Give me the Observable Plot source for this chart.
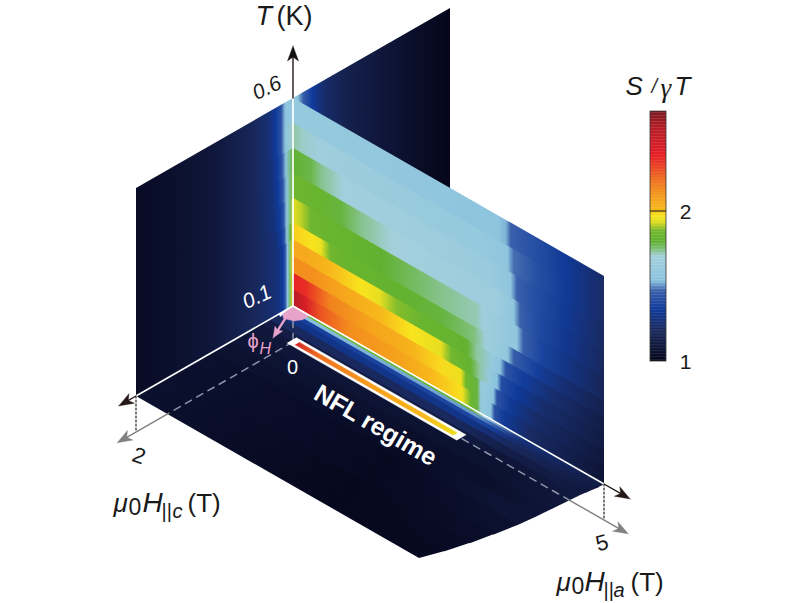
<!DOCTYPE html>
<html>
<head>
<meta charset="utf-8">
<style>html,body{margin:0;padding:0;background:#fff;overflow:hidden}svg{display:block}</style>
<script src="https://cdn.jsdelivr.net/npm/d3@7"></script>
<script src="https://cdn.jsdelivr.net/npm/@observablehq/plot@0.6"></script>
</head>
<body>
<div id="chart"></div>
<script>
// ---- data ----
const tEdges = [0.6, 0.54, 0.48, 0.42, 0.36, 0.30, 0.26, 0.22, 0.18, 0.14, 0.10];

// S/gammaT along mu0H||a (T) for every temperature row, top to bottom: [Ha, S]
const panelRows = [
  [[0,1.6],[.5,1.6],[2,1.57],[3.3,1.55],[3.42,1.52],[3.5,1.46],[3.85,1.41],[4.4,1.33],[5,1.22]],
  [[0,1.72],[.15,1.7],[.4,1.66],[1.5,1.63],[3,1.6],[3.45,1.56],[3.55,1.47],[3.9,1.41],[4.4,1.33],[5,1.22]],
  [[0,1.79],[.3,1.77],[.45,1.73],[.8,1.68],[2,1.65],[3.2,1.62],[3.5,1.56],[3.6,1.46],[3.9,1.4],[4.4,1.32],[5,1.21]],
  [[0,1.84],[.45,1.82],[.77,1.78],[1.1,1.73],[1.6,1.69],[2.4,1.66],[3.3,1.64],[3.55,1.56],[3.65,1.46],[4,1.38],[4.4,1.31],[5,1.2]],
  [[0,1.93],[.13,1.9],[.29,1.84],[.93,1.81],[1.41,1.79],[1.9,1.76],[2.4,1.73],[2.96,1.71],[3.05,1.66],[3.6,1.57],[3.7,1.46],[4,1.37],[4.4,1.29],[5,1.18]],
  [[0,1.98],[.3,1.96],[.45,1.94],[.6,1.85],[.9,1.82],[1.8,1.8],[2.4,1.78],[2.9,1.74],[3.1,1.66],[3.45,1.58],[3.55,1.45],[3.9,1.36],[4.3,1.26],[5,1.15]],
  [[0,2.05],[.2,2.05],[.6,2.0],[1.1,1.96],[1.4,1.93],[1.66,1.87],[2.06,1.83],[2.8,1.8],[2.96,1.72],[3.2,1.6],[3.33,1.55],[3.42,1.42],[3.7,1.35],[4.2,1.24],[5,1.13]],
  [[0,2.12],[.3,2.12],[.8,2.06],[1.4,2.0],[1.9,1.96],[2.38,1.93],[2.54,1.86],[2.86,1.8],[3,1.72],[3.15,1.6],[3.28,1.53],[3.35,1.4],[3.6,1.34],[4.0,1.24],[5,1.12]],
  [[0,2.35],[.2,2.33],[.6,2.15],[1.25,2.07],[1.9,2.02],[2.38,1.97],[2.7,1.94],[2.78,1.85],[2.96,1.78],[3.02,1.62],[3.22,1.55],[3.28,1.42],[3.5,1.33],[3.9,1.23],[5,1.1]],
  [[0,2.55],[.2,2.42],[.45,2.25],[.93,2.12],[1.74,2.07],[2.22,2.0],[2.62,1.97],[2.72,1.95],[2.86,1.83],[2.96,1.78],[3.02,1.6],[3.18,1.56],[3.24,1.42],[3.4,1.33],[3.8,1.22],[5,1.08]]
];

// wall: S along mu0H||c from +2 through 0 to -2: [Hc, S]
const wallOuter = [[2,1.03],[1.6,1.05],[1,1.1],[.5,1.19]];
const wallBack = [[-.06,1.55],[-.13,1.45],[-.25,1.34],[-.4,1.23],[-.7,1.15],[-1.2,1.09],[-1.6,1.04],[-2,1.0]];
const wallInner = [
  [[.3,1.26],[.22,1.34],[.15,1.42],[.1,1.55],[0,1.6]],
  [[.3,1.26],[.22,1.34],[.15,1.42],[.1,1.55],[0,1.7]],
  [[.28,1.26],[.2,1.34],[.14,1.42],[.09,1.55],[0,1.78]],
  [[.27,1.26],[.19,1.34],[.13,1.42],[.08,1.55],[0,1.84]],
  [[.26,1.26],[.17,1.34],[.12,1.42],[.08,1.55],[.03,1.75],[0,1.93]],
  [[.22,1.26],[.15,1.34],[.11,1.42],[.08,1.55],[.03,1.78],[0,1.98]],
  [[.2,1.26],[.13,1.34],[.1,1.42],[.07,1.55],[.04,1.75],[.02,1.9],[0,2.05]],
  [[.2,1.26],[.13,1.34],[.1,1.42],[.07,1.55],[.04,1.75],[.02,1.9],[0,2.12]],
  [[.2,1.26],[.13,1.34],[.1,1.42],[.07,1.55],[.04,1.75],[.02,1.9],[0,2.35]],
  [[.2,1.26],[.13,1.34],[.1,1.42],[.07,1.55],[.04,1.75],[.02,1.9],[0,2.55]]
];

// floor strips: edges in Hc, rim of the measured field in Ha, S along Ha
const floorEdges = [0,.03,.07,.12,.2,.3,.4,.6,.8,1,1.25,1.5,1.75,2];
const floorRim = [5,5,5,4.99,4.975,4.96,4.95,4.93,4.91,4.88,4.82,4.75,4.66,4.55];
const floorRows = [
  [[0,1.85],[2.9,1.82],[3.1,1.62],[3.3,1.5],[3.7,1.28],[5,1.13]],
  [[0,1.55],[3,1.5],[3.3,1.45],[3.7,1.26],[5,1.12]],
  [[0,1.36],[3.1,1.38],[3.3,1.36],[3.7,1.23],[5,1.12]],
  [[0,1.3],[3,1.3],[3.7,1.2],[5,1.11]],
  [[0,1.2],[3,1.2],[3.7,1.14],[5,1.11]],
  [[0,1.13],[3,1.12],[4,1.09],[5,1.11]],
  [[0,1.1],[3,1.07],[4,1.07],[5,1.1]],
  [[0,1.08],[3,1.05],[4,1.05],[5,1.09]],
  [[0,1.07],[3,1.03],[4.5,1.08]],
  [[0,1.06],[3,1.02],[4.5,1.06]],
  [[0,1.06],[3,1.02],[4.5,1.04]],
  [[0,1.06],[3,1.01],[4.5,1.03]],
  [[0,1.06],[3,1.01],[4.5,1.02]]
];

// colour bar
const colorStops = [1,1.21,1.34,1.46,1.53,1.69,1.74,1.79,1.86,1.92,1.96,2,2.08,2.21,2.36,2.55,2.66];
const colorRamp = ["#05061a","#1a2a60","#0f3a9b","#3a60aa","#8ac3de","#a4d0dc","#7fc07a","#60b130","#72b82e","#e0dc20","#f8e41e","#f7b81c","#f5a01c","#ee6a20","#e71f27","#b41d26","#7a1a20"];
const colorTicks = [1, 2];

// NFL bar: S along Ha
const nflStops = [[.5,2.45],[.9,2.2],[1.8,2.08],[2.6,2.0],[3.15,1.94]];
const nflOuter = {ha:[.47,3.2], hc:[.33,.45]};
const nflInner = {ha:[.56,3.1], hc:[.362,.418]};

// phi_H sector on the floor, [Ha, Hc]
const sectorPink = [[0,0],[.27,0],[.27,.09],[.22,.16],[.1,.2],[.03,.16]];
const sectorWhite = [[0,0],[0,.18],[.05,.2],[.03,.15]];
const phiTip = [.288,.483];

// axis extents
const tTop = .6, tTip = .725, tGround = .0135;
const haMax = 5, hcMax = 2, haTip = 5.42, hcTip = 2.22;
const haGreyTip = 5.39, hcGreyTip = 2.24, haDashEnd = 4.44, hcDashEnd = 1.58;

// ---- oblique projection of (Hc, Ha, T) ----
const P = (hc, ha, t = .1) => ({x: 292.5 + 62.2 * ha - 78.5 * hc, y: 305.5 + 35.6 * ha + 45 * hc - 416 * (t - .1)});

const colorScale = Plot.scale({color: {type: "linear", domain: colorStops, range: colorRamp, interpolate: "rgb"}});
const col = v => colorScale.apply(v);

const FONT = "'Liberation Sans', Arial, sans-serif";
const gradients = [];
function grad(id, x1, x2, stops) {
  gradients.push({id, x1, x2, stops});
  return `url(#${id})`;
}
const poly = (pts, fill, sw = 0) => Plot.line(pts, {x: "x", y: "y", fill, stroke: sw ? fill : "none", strokeWidth: sw, strokeLinejoin: "round"});
const seg = (a, b, o) => Plot.line([a, b], {x: "x", y: "y", ...o});
function head(from, tip, fill, len = 15, w = 5.5, notch = 11) {
  const d = Math.hypot(tip.x - from.x, tip.y - from.y), u = {x: (tip.x - from.x) / d, y: (tip.y - from.y) / d};
  const n = {x: -u.y, y: u.x};
  const base = l => ({x: tip.x - u.x * l, y: tip.y - u.y * l});
  const b = base(len), c = base(notch);
  return poly([tip, {x: b.x + n.x * w, y: b.y + n.y * w}, c, {x: b.x - n.x * w, y: b.y - n.y * w}, tip], fill, .4);
}
const txt = (s, x, y, size, o = {}) => Plot.text([s], {x: () => x, y: () => y, text: d => d, fontSize: size, fontFamily: FONT, fill: "#1a1a1a", textAnchor: "start", lineAnchor: "middle", ...o});

const marks = [];
const overlapT = .003, overlapHc = .012;

// wall
panelRows.forEach((_, i) => {
  const stops = [...wallOuter, ...wallInner[i], ...wallBack].map(([hc, s]) => [(2 - hc) / 4, col(s)]);
  const f = grad(`w${i}`, P(hcMax, 0).x, P(-hcMax, 0).x, stops);
  const t1 = tEdges[i], t2 = tEdges[i + 1] - (i < panelRows.length - 1 ? overlapT : 0);
  marks.push(poly([P(hcMax, 0, t1), P(-hcMax, 0, t1), P(-hcMax, 0, t2), P(hcMax, 0, t2)], f));
});

// floor
floorRows.forEach((row, i) => {
  const h1 = floorEdges[i], h2 = floorEdges[i + 1], m = (h1 + h2) / 2;
  const x0 = P(m, 0).x, x1 = P(m, haMax).x;
  const f = grad(`f${i}`, x0, x1, row.map(([ha, s]) => [ha / haMax, col(s)]));
  const h2o = h2 + (i < floorRows.length - 1 ? overlapHc : 0);
  marks.push(poly([P(h1, 0), P(h1, floorRim[i]), P(h2o, floorRim[i + 1]), P(h2o, 0)], f));
});

// main panel
panelRows.forEach((row, i) => {
  const f = grad(`p${i}`, P(0, 0).x, P(0, haMax).x, row.map(([ha, s]) => [ha / haMax, col(s)]));
  const t1 = tEdges[i], t2 = tEdges[i + 1] - (i < panelRows.length - 1 ? overlapT : 0);
  marks.push(poly([P(0, 0, t1), P(0, haMax, t1), P(0, haMax, t2), P(0, 0, t2)], f));
});

// grey ground axes
const greyDash = {stroke: "#8d95a8", strokeWidth: 1.5, strokeDasharray: "7 6"};
const greySolid = {stroke: "#808080", strokeWidth: 1.4};
marks.push(seg(P(0, 0, .1 - .035), P(0, 0, tGround), greyDash));
marks.push(seg(P(0, 0, tGround), P(0, haDashEnd, tGround), greyDash));
marks.push(seg(P(0, 0, tGround), P(hcDashEnd, 0, tGround), greyDash));
marks.push(seg(P(0, haDashEnd, tGround), P(0, haGreyTip - .1, tGround), greySolid));
marks.push(seg(P(hcDashEnd, 0, tGround), P(hcGreyTip - .1, 0, tGround), greySolid));
marks.push(head(P(0, haDashEnd, tGround), P(0, haGreyTip, tGround), "#808080"));
marks.push(head(P(hcDashEnd, 0, tGround), P(hcGreyTip, 0, tGround), "#808080"));
// dotted drop lines
const dots = {stroke: "#222", strokeWidth: 1.2, strokeDasharray: "2 2"};
marks.push(seg(P(0, haMax), P(0, haMax, tGround), dots));
marks.push(seg(P(hcMax, 0), P(hcMax, 0, tGround), dots));

// NFL bar
const rectOn = q => [P(q.hc[0], q.ha[0]), P(q.hc[0], q.ha[1]), P(q.hc[1], q.ha[1]), P(q.hc[1], q.ha[0])];
marks.push(poly(rectOn(nflOuter), "#ffffff", .3));
const nflFill = grad("nfl", P(.39, nflStops[0][0]).x, P(.39, nflStops[nflStops.length - 1][0]).x,
  nflStops.map(([ha, s]) => [(ha - nflStops[0][0]) / (nflStops[nflStops.length - 1][0] - nflStops[0][0]), col(s)]));
marks.push(poly(rectOn(nflInner), nflFill, .3));

// phi_H sector and arrow
marks.push(poly(sectorPink.map(([a, c]) => P(c, a)), "#e8a3cb", .3));
marks.push(poly(sectorWhite.map(([a, c]) => P(c, a)), "#ffffff", .3));
const phiEnd = P(phiTip[1], phiTip[0]);
marks.push(seg(P(.03, .02), P(phiTip[1] * .85, phiTip[0] * .85), {stroke: "#e8a3cb", strokeWidth: 2.4}));
marks.push(head(P(0, 0), phiEnd, "#e8a3cb", 11, 4.5, 9));

// axes
const white = {stroke: "#fff", strokeWidth: 1.6};
const black = {stroke: "#231815", strokeWidth: 1.4};
marks.push(seg(P(0, 0, .1), P(0, 0, tTop), {stroke: "#fff", strokeWidth: 1.7}));
marks.push(seg(P(0, 0), P(0, haMax), white));
marks.push(seg(P(0, 0), P(hcMax, 0), white));
marks.push(seg(P(0, 0, tTop), P(0, 0, tTip - .02), black));
marks.push(seg(P(0, haMax), P(0, haTip - .1), black));
marks.push(seg(P(hcMax, 0), P(hcTip - .04, 0), black));
marks.push(head(P(0, 0, tTop), P(0, 0, tTip), "#111"));
marks.push(head(P(0, haMax), P(0, haTip), "#231815"));
marks.push(head(P(hcMax, 0), P(hcTip, 0), "#231815"));

// colour bar
const cbY = d3.scaleLinear().domain([1, 2]).range([361, 210.5]);
const levels = d3.range(1, 2.66, .01);
marks.push(Plot.rect(levels, {x1: () => 650, x2: () => 666, y1: d => cbY(d), y2: d => cbY(d + .012), fill: d => d}));
marks.push(Plot.rect([0], {x1: () => 650, x2: () => 666, y1: () => cbY(1), y2: () => cbY(2.66), fill: "none", stroke: "#333", strokeWidth: .8}));
marks.push(Plot.ruleY([2], {x1: () => 650, x2: () => 666, y: d => cbY(d), stroke: "#111", strokeWidth: 1}));
marks.push(Plot.text(colorTicks, {x: () => 685, y: d => cbY(d) + 1, text: d => String(d), fontSize: 21, fontFamily: FONT, fill: "#1a1a1a", lineAnchor: "middle"}));

// labels
const it = {fontStyle: "italic"};
marks.push(txt("T", 255, 16, 27, it), txt("(K)", 276, 16, 27));
const t06 = P(0, 0, tTop), t01 = P(0, 0, .1), h5 = P(0, haMax, tGround), h2 = P(hcMax, 0, tGround);
marks.push(txt("0.6", t06.x - 26, t06.y - 10, 21, {...it, textAnchor: "middle", rotate: -25}));
marks.push(txt("0.1", t01.x - 36, t01.y - 9, 21, {...it, fill: "#fff", textAnchor: "middle", rotate: -25}));
marks.push(txt("0", 292, 367, 20, {fill: "#fff", textAnchor: "middle"}));
marks.push(txt("2", h2.x + 3, h2.y + 24, 22, {textAnchor: "middle", rotate: 20}));
marks.push(txt("5", h5.x - 2, h5.y + 23, 22, {textAnchor: "middle", rotate: -15}));
marks.push(txt("NFL regime", 375, 425, 25, {fontWeight: "bold", fill: "#fff", textAnchor: "middle", rotate: 30}));
marks.push(txt("ϕ", 247, 341, 20, {fill: "#e8a3cb"}), txt("H", 259, 348, 16, {...it, fill: "#e8a3cb"}));
// mu0 H||c (T)
marks.push(txt("μ", 113, 503, 26, it), txt("0", 128, 507, 23), txt("H", 142, 503, 28, it),
  txt("||", 161, 511, 20), txt("c", 172, 511, 20, it), txt("(T)", 187, 503, 26));
marks.push(txt("μ", 556, 582, 26, it), txt("0", 571, 586, 23), txt("H", 584, 582, 28, it),
  txt("||", 603, 590, 20), txt("a", 613, 590, 20, it), txt("(T)", 630, 582, 26));
marks.push(txt("S", 625, 86, 26, it), txt("/", 651, 86, 20, {...it, fill: "#333"}), txt("γ", 660, 88, 27, {...it, fontFamily: "'Liberation Serif', serif"}), txt("T", 674, 86, 26, it));

// gradient defs
marks.unshift(() => {
  const defs = d3.create("svg:defs");
  for (const g of gradients) {
    const lg = defs.append("linearGradient").attr("id", g.id).attr("gradientUnits", "userSpaceOnUse")
      .attr("x1", g.x1).attr("x2", g.x2).attr("y1", 0).attr("y2", 0);
    for (const [o, c] of g.stops) lg.append("stop").attr("offset", o).attr("stop-color", c);
  }
  return defs.node();
});

const chart = Plot.plot({
  width: 800, height: 603, margin: 0,
  x: {type: "identity", axis: null},
  y: {type: "identity", axis: null},
  color: {type: "linear", domain: colorStops, range: colorRamp, interpolate: "rgb"},
  style: {background: "#fff", fontFamily: FONT},
  marks
});
document.getElementById("chart").append(chart);
</script>
</body>
</html>
